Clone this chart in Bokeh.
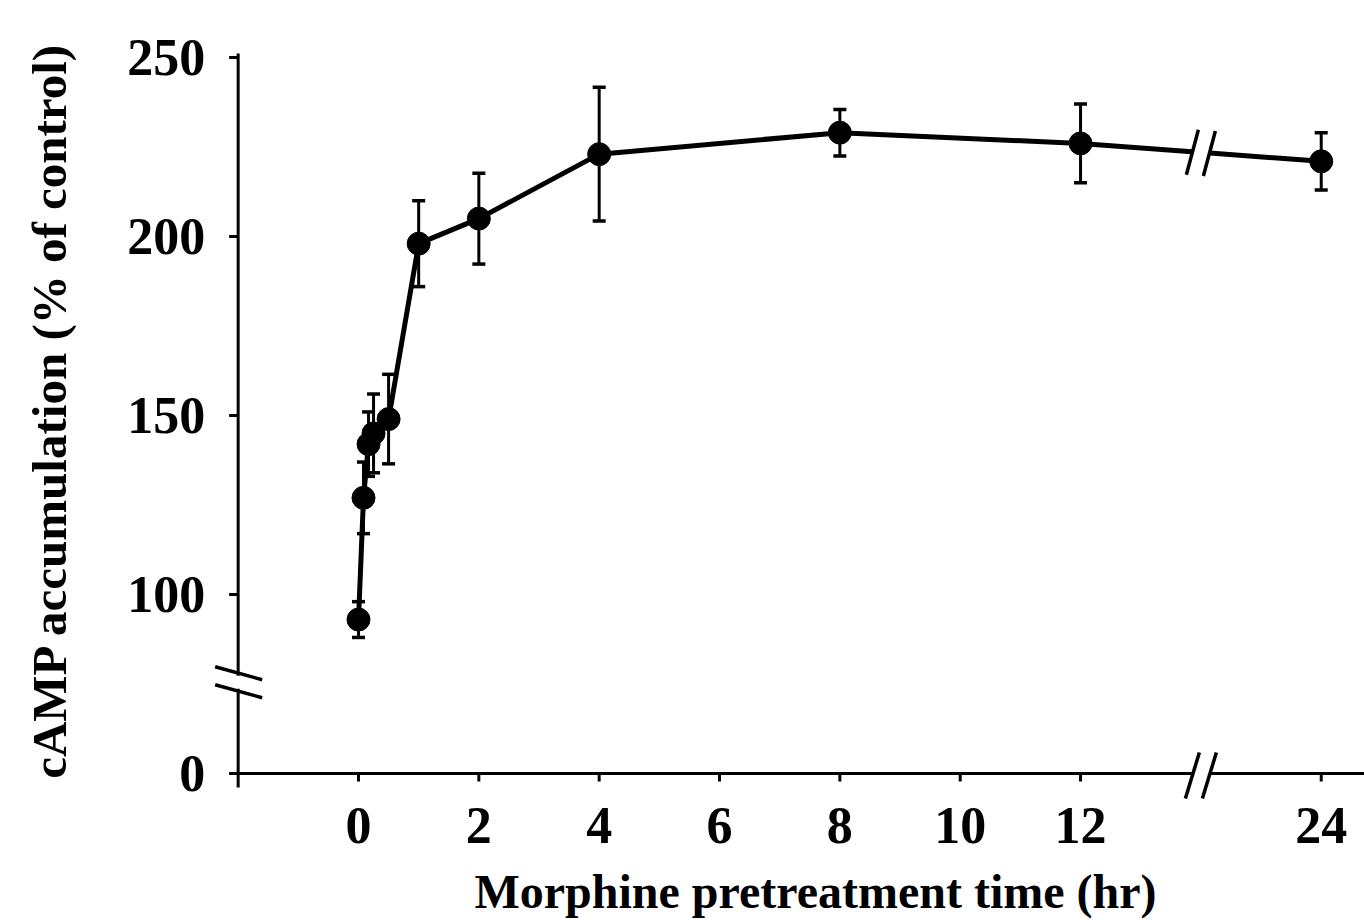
import numpy as np
from bokeh.plotting import figure
from bokeh.models import Range1d
from bokeh.embed import file_html
from bokeh.resources import INLINE
from bokeh.core.properties import value

# ---------------- data ----------------
time_hr = [0, 0.083, 0.167, 0.25, 0.5, 1, 2, 4, 8, 12, 24]
camp_pct = [93, 127, 142, 145, 149, 198, 205, 223, 229, 226, 221]
camp_sem = [5, 10, 9, 11, 12.5, 12, 12.7, 18.7, 6.5, 11, 8]
x_tick_vals = [0, 2, 4, 6, 8, 10, 12, 24]
y_tick_vals = [0, 100, 150, 200, 250]
x_title = "Morphine pretreatment time (hr)"
y_title = "cAMP accumulation (% of control)"

# ---------------- broken-axis mapping ----------------
X_BRK = 14.0          # display position of the x-axis break (between 12 and 24)
Y_BRK = 75.5          # display position of the y-axis break (between 0 and 100)


def xmap(t):
    return t if t <= 12 else t - 8      # 24 h is drawn at display position 16


def ymap(v):
    return v if v >= 60 else 50 + v / 6.0   # 0 % is drawn at display position 50


# ---------------- layout (pixels) ----------------
W, H = 1364, 920
XPX0, XPX_PER = 358.0, 60.17     # pixel of x=0 and pixels per hour
YPX100, YPX_PER = 594.0, 3.58    # pixel of y=100 and pixels per unit


def dx(px):
    return px / XPX_PER


def dy(px):
    return px / YPX_PER


def ypx(py):
    return 100 + (YPX100 - py) / YPX_PER


def xpx(px):
    return (px - XPX0) / XPX_PER


x_range = Range1d(xpx(0), xpx(W))
y_range = Range1d(ypx(H), ypx(0))

AX_X = -2.0       # where the y axis is drawn
AX_Y = ymap(0)    # where the x axis is drawn

FONT = "Liberation Serif"
INK = "black"

p = figure(width=W, height=H, x_range=x_range, y_range=y_range,
           output_backend="svg", toolbar_location=None,
           x_axis_location=None, y_axis_location=None,
           min_border_left=0, min_border_right=0,
           min_border_top=0, min_border_bottom=0)
p.outline_line_color = None
p.grid.visible = False
p.background_fill_color = "white"
p.border_fill_color = "white"

xt = [xmap(t) for t in x_tick_vals]
yt = [ymap(v) for v in y_tick_vals]

# ---------------- tick labels and titles ----------------
p.text(x=xt, y=[AX_Y - dy(52)] * len(xt), text=[str(t) for t in x_tick_vals],
       text_align="center", text_baseline="middle",
       text_font=value(FONT), text_font_style="bold", text_font_size="52px",
       text_color=INK)
p.text(x=[AX_X - dx(33)] * len(yt), y=yt, text=[str(v) for v in y_tick_vals],
       text_align="right", text_baseline="middle",
       text_font=value(FONT), text_font_style="bold", text_font_size="52px",
       text_color=INK)
p.text(x=[xpx(815)], y=[AX_Y - dy(118)], text=[x_title],
       text_align="center", text_baseline="middle",
       text_font=value(FONT), text_font_style="bold", text_font_size="48px",
       text_color=INK)
p.text(x=[xpx(49)], y=[ypx(410)], text=[y_title], angle=np.pi / 2,
       text_align="center", text_baseline="middle",
       text_font=value(FONT), text_font_style="bold", text_font_size="49px",
       text_color=INK)

# ---------------- axis lines with breaks ----------------
yg = dy(6.5)
p.segment(x0=[AX_X, AX_X], y0=[AX_Y - dy(14), Y_BRK + yg],
          x1=[AX_X, AX_X], y1=[Y_BRK - yg, 250 + dy(4)],
          line_color=INK, line_width=3)
xg = dx(9)
p.segment(x0=[AX_X - dx(9), X_BRK + xg], y0=[AX_Y, AX_Y],
          x1=[X_BRK - xg, x_range.end], y1=[AX_Y, AX_Y],
          line_color=INK, line_width=3)
# ticks
p.segment(x0=[AX_X - dx(9)] * len(yt), y0=yt, x1=[AX_X] * len(yt), y1=yt,
          line_color=INK, line_width=3)
p.segment(x0=xt, y0=[AX_Y] * len(xt), x1=xt, y1=[AX_Y - dy(8)] * len(xt),
          line_color=INK, line_width=3)
# y-axis break strokes
for c in (Y_BRK + dy(9), Y_BRK - dy(9)):
    p.segment(x0=[AX_X - dx(23)], y0=[c + dy(6.5)], x1=[AX_X + dx(24)], y1=[c - dy(6.5)],
              line_color=INK, line_width=3.5)
# x-axis break strokes
for c in (X_BRK - dx(8.5), X_BRK + dx(8.5)):
    p.segment(x0=[c - dx(7)], y0=[AX_Y - dy(25)], x1=[c + dx(7)], y1=[AX_Y + dy(21)],
              line_color=INK, line_width=3.5)

# ---------------- data ----------------
xd = np.array([xmap(t) for t in time_hr])
yd = np.array([ymap(v) for v in camp_pct])
ed = np.array(camp_sem)

pre = xd <= 12
x_last, y_last = xd[pre][-1], yd[pre][-1]
x_next, y_next = xd[~pre][0], yd[~pre][0]


def y_at(xx):
    return float(np.interp(xx, [x_last, x_next], [y_last, y_next]))


p.line(list(xd[pre]) + [X_BRK - xg], list(yd[pre]) + [y_at(X_BRK - xg)],
       line_color=INK, line_width=5)
p.line([X_BRK + xg] + list(xd[~pre]), [y_at(X_BRK + xg)] + list(yd[~pre]),
       line_color=INK, line_width=5)
for c in (X_BRK - dx(8.5), X_BRK + dx(8.5)):
    yc = y_at(c)
    p.segment(x0=[c - dx(6)], y0=[yc - dy(23)], x1=[c + dx(6)], y1=[yc + dy(22)],
              line_color=INK, line_width=3.5)

# error bars
p.segment(x0=xd, y0=yd - ed, x1=xd, y1=yd + ed, line_color=INK, line_width=3)
p.scatter(np.concatenate([xd, xd]), np.concatenate([yd - ed, yd + ed]),
          marker="dash", size=13, line_color=INK, line_width=3.5)
p.scatter(xd, yd, marker="circle", size=23, fill_color=INK, line_color=INK)

open("out.html", "w").write(file_html(p, INLINE))
